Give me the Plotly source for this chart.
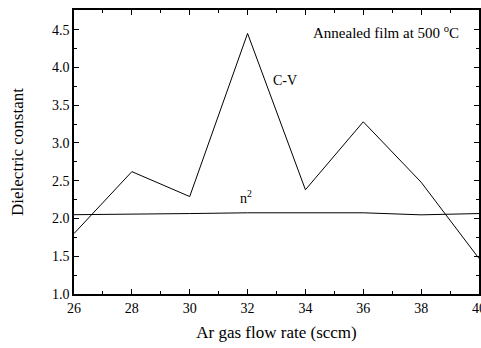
import plotly.graph_objects as go

x_flow = [26, 28, 30, 32, 34, 36, 38, 40]
cv_values = [1.80, 2.62, 2.29, 4.45, 2.38, 3.28, 2.48, 1.47]
n2_values = [2.05, 2.055, 2.065, 2.075, 2.075, 2.075, 2.048, 2.065]
x_ticks = [26, 28, 30, 32, 34, 36, 38, 40]
y_ticks = [1.0, 1.5, 2.0, 2.5, 3.0, 3.5, 4.0, 4.5]

font_family = "Liberation Serif"

fig = go.Figure()
fig.add_trace(go.Scatter(x=x_flow, y=cv_values, mode="lines",
                         line=dict(color="black", width=1), showlegend=False))
fig.add_trace(go.Scatter(x=x_flow, y=n2_values, mode="lines",
                         line=dict(color="black", width=1), showlegend=False))

axis_common = dict(showline=True, linecolor="black", linewidth=1.5, mirror="allticks",
                   ticks="inside", ticklen=5, tickwidth=1, tickcolor="black",
                   showgrid=False, zeroline=False, ticklabeloverflow="allow",
                   automargin=False,
                   tickfont=dict(family=font_family, size=14, color="black"))

fig.update_xaxes(range=[26, 40], tickvals=x_ticks, ticktext=[str(v) for v in x_ticks],
                 minor=dict(dtick=1, ticks="inside", ticklen=3, tickcolor="black", showgrid=False),
                 title=dict(text="Ar gas flow rate (sccm)", standoff=12,
                            font=dict(family=font_family, size=17, color="black")),
                 **axis_common)
fig.update_yaxes(range=[1.0, 4.76], tickvals=y_ticks, ticktext=[f"{v:.1f}" for v in y_ticks],
                 minor=dict(dtick=0.25, ticks="inside", ticklen=3, tickcolor="black", showgrid=False),
                 title=dict(text="Dielectric constant", standoff=24,
                            font=dict(family=font_family, size=17, color="black")),
                 **axis_common)

fig.add_annotation(x=36.78, y=4.47, text="Annealed film at 500 <sup>o</sup>C", showarrow=False,
                   xanchor="center", yanchor="middle",
                   font=dict(family=font_family, size=15, color="black"))
fig.add_annotation(x=33.29, y=3.83, text="C-V", showarrow=False, xanchor="center", yanchor="middle",
                   font=dict(family=font_family, size=14, color="black"))
fig.add_annotation(x=31.95, y=2.28, text="n<sup>2</sup>", showarrow=False, xanchor="center", yanchor="middle",
                   font=dict(family=font_family, size=14, color="black"))

fig.update_layout(width=481, height=348, margin=dict(l=74, r=2, t=10, b=54),
                  plot_bgcolor="white", paper_bgcolor="white",
                  font=dict(family=font_family, color="black"))

fig.write_html("out.html")
